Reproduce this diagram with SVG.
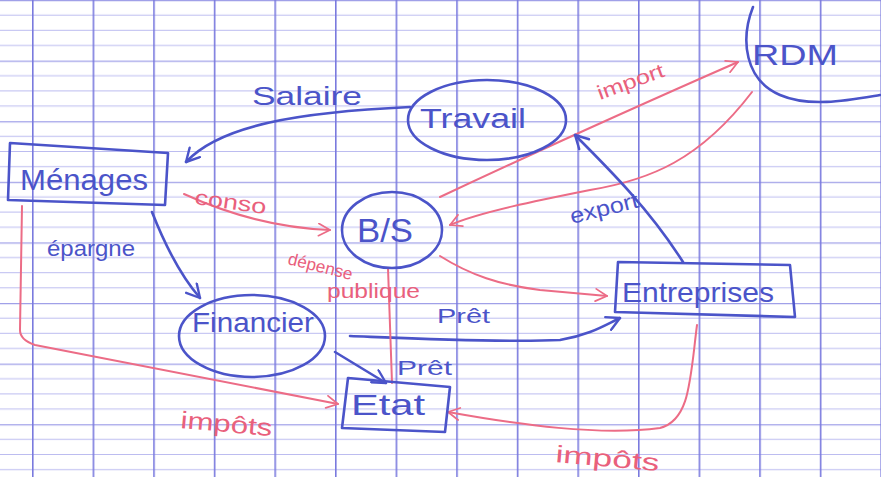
<svg xmlns="http://www.w3.org/2000/svg" width="881" height="477" viewBox="0 0 881 477">
<style>
.b{stroke:#4b54c9;fill:none;stroke-width:2.6;stroke-linecap:round;stroke-linejoin:round}
.r{stroke:#ec6c86;fill:none;stroke-width:2;stroke-linecap:round;stroke-linejoin:round}
.tb{fill:#4b54c9;font-family:"Liberation Sans",Arial,sans-serif}
.tr{fill:#e9607c;font-family:"Liberation Sans",Arial,sans-serif}
</style>
<defs>
<pattern id="grid" x="32" y="0" width="60.6" height="60.6" patternUnits="userSpaceOnUse">
<line x1="0" y1="15.15" x2="60.6" y2="15.15" stroke="#bcbcf0" stroke-width="1"/>
<line x1="0" y1="30.3" x2="60.6" y2="30.3" stroke="#bcbcf0" stroke-width="1"/>
<line x1="0" y1="45.45" x2="60.6" y2="45.45" stroke="#bcbcf0" stroke-width="1"/>
<line x1="0" y1="0.6" x2="60.6" y2="0.6" stroke="#a0a0e8" stroke-width="1.3"/>
<line x1="0.8" y1="0" x2="0.8" y2="60.6" stroke="#7a7ade" stroke-width="1.6"/>
</pattern>
<marker id="ab" viewBox="0 0 16 16" refX="15" refY="8" markerWidth="16" markerHeight="16" markerUnits="userSpaceOnUse" orient="auto"><path d="M2,1 L15,8 L2,15" fill="none" stroke="#4b54c9" stroke-width="2.4" stroke-linecap="round" stroke-linejoin="round"/></marker>
<marker id="ar" viewBox="0 0 16 16" refX="15" refY="8" markerWidth="14" markerHeight="14" markerUnits="userSpaceOnUse" orient="auto"><path d="M2,1 L15,8 L2,15" fill="none" stroke="#ec6c86" stroke-width="2" stroke-linecap="round" stroke-linejoin="round"/></marker>
</defs>
<rect width="881" height="477" fill="#ffffff"/>
<rect width="881" height="477" fill="url(#grid)"/>

<g id="connectors">
<path class="b" d="M410,107 C300,112 220,125 186,162" marker-end="url(#ab)"/>
<path class="r" d="M184,194 C230,215 280,228 330,230" marker-end="url(#ar)"/>
<path class="r" d="M440,197 C540,150 640,105 738,62" marker-end="url(#ar)"/>
<path class="r" d="M752,92 C700,160 650,180 590,190 C540,200 480,212 450,225" marker-end="url(#ar)"/>
<path class="r" d="M440,256 C470,275 500,285 540,290 L607,296" marker-end="url(#ar)"/>
<path class="b" d="M683,262 C650,210 610,170 575,135" marker-end="url(#ab)"/>
<path class="b" d="M152,212 C165,245 180,275 200,298" marker-end="url(#ab)"/>
<path class="r" d="M22,206 L20,330 Q20,340 35,345 L338,404" marker-end="url(#ar)"/>
<path class="b" d="M335,352 L386,383" marker-end="url(#ab)"/>
<path class="b" d="M350,336 C400,338 500,343 560,340 C590,335 605,325 620,318" marker-end="url(#ab)"/>
<path class="r" d="M388,268 L392,383"/>
<path class="r" d="M697,325 C690,380 690,420 660,428 C600,436 520,425 448,412" marker-end="url(#ar)"/>
<text class="tb" x="252" y="105" font-size="26" textLength="110" lengthAdjust="spacingAndGlyphs">Salaire</text>
<text class="tr" x="194" y="204" font-size="21" textLength="72" lengthAdjust="spacingAndGlyphs" transform="rotate(8 194 204)">conso</text>
<text class="tb" x="47" y="256" font-size="22" textLength="88" lengthAdjust="spacingAndGlyphs">épargne</text>
<text class="tr" x="600" y="100" font-size="20" textLength="70" lengthAdjust="spacingAndGlyphs" transform="rotate(-20 600 100)">import</text>
<text class="tb" x="572" y="224" font-size="22" textLength="70" lengthAdjust="spacingAndGlyphs" transform="rotate(-14 572 224)">export</text>
<text class="tr" x="287" y="264" font-size="17" textLength="66" lengthAdjust="spacingAndGlyphs" transform="rotate(14 287 264)">dépense</text>
<text class="tr" x="327" y="298" font-size="20" textLength="93" lengthAdjust="spacingAndGlyphs">publique</text>
<text class="tb" x="437" y="323" font-size="20" textLength="53" lengthAdjust="spacingAndGlyphs">Prêt</text>
<text class="tb" x="397" y="375" font-size="20" textLength="55" lengthAdjust="spacingAndGlyphs">Prêt</text>
<text class="tr" x="180" y="428" font-size="24" textLength="92" lengthAdjust="spacingAndGlyphs" transform="rotate(5 180 428)">impôts</text>
<text class="tr" x="555" y="462" font-size="24" textLength="104" lengthAdjust="spacingAndGlyphs" transform="rotate(5 555 462)">impôts</text>
</g>

<g id="menages">
<polygon class="b" points="10,143 168,153 165,205 8,200"/>
<text class="tb" x="20" y="190" font-size="30" textLength="128" lengthAdjust="spacingAndGlyphs">Ménages</text>
</g>
<g id="travail">
<ellipse class="b" cx="487" cy="120" rx="79" ry="40"/>
<text class="tb" x="420" y="128" font-size="27" textLength="106" lengthAdjust="spacingAndGlyphs">Travail</text>
</g>
<g id="bs">
<ellipse class="b" cx="392" cy="230" rx="50" ry="38"/>
<text class="tb" x="357" y="242" font-size="34" textLength="56" lengthAdjust="spacingAndGlyphs">B/S</text>
</g>
<g id="rdm">
<path class="b" d="M753,7 C740,40 745,80 780,95 C810,108 850,100 880,95"/>
<text class="tb" x="752" y="65" font-size="30" textLength="86" lengthAdjust="spacingAndGlyphs">RDM</text>
</g>
<g id="entreprises">
<polygon class="b" points="618,262 790,265 795,317 615,312"/>
<text class="tb" x="622" y="302" font-size="28" textLength="152" lengthAdjust="spacingAndGlyphs">Entreprises</text>
</g>
<g id="financier">
<ellipse class="b" cx="252" cy="336" rx="73" ry="41"/>
<text class="tb" x="192" y="332" font-size="27" textLength="122" lengthAdjust="spacingAndGlyphs">Financier</text>
</g>
<g id="etat">
<polygon class="b" points="348,378 450,387 445,432 342,428"/>
<text class="tb" x="351" y="415" font-size="30" textLength="74" lengthAdjust="spacingAndGlyphs">Etat</text>
</g>
</svg>
